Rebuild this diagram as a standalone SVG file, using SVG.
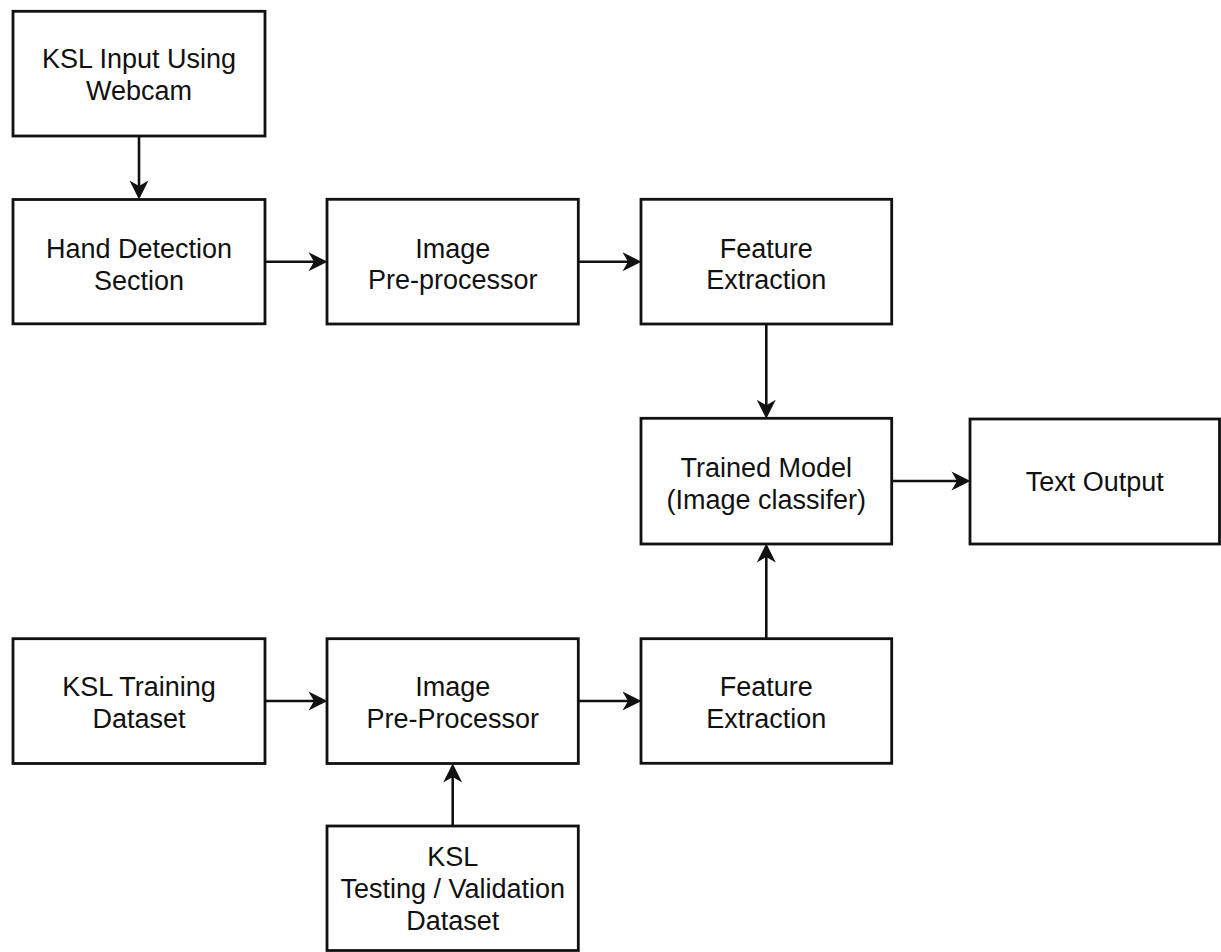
<svg xmlns="http://www.w3.org/2000/svg" width="1221" height="952" viewBox="0 0 1221 952">
<style>
.box{fill:#ffffff;stroke:#111111;stroke-width:2.8}
.lbl{font-family:"Liberation Sans",Arial,Helvetica,sans-serif;font-size:27px;fill:#111111;text-anchor:middle}
.edge{fill:none;stroke:#111111;stroke-width:2.6;marker-end:url(#arr)}
</style>
<defs>
<marker id="arr" viewBox="0 0 20 20" refX="13" refY="10" markerWidth="20" markerHeight="20" markerUnits="userSpaceOnUse" orient="auto">
<path d="M0.5,0.5 L19.5,10 L0.5,19.5 L6,10 Z" fill="#111111" stroke="none"/>
</marker>
</defs>
<rect width="1221" height="952" fill="#ffffff"/>
<g id="connectors">
<path class="edge" d="M139,136 L139,193"/>
<path class="edge" d="M265,261.7 L321,261.7"/>
<path class="edge" d="M578.3,261.7 L635,261.7"/>
<path class="edge" d="M766.3,324 L766.3,412.3"/>
<path class="edge" d="M891.7,481 L964,481"/>
<path class="edge" d="M766.3,638.7 L766.3,550"/>
<path class="edge" d="M265,701 L321,701"/>
<path class="edge" d="M578.3,701 L635,701"/>
<path class="edge" d="M452.7,826 L452.7,770"/>
</g>
<g id="n-ksl-input">
<rect class="box" x="13" y="11.3" width="252" height="124.7"/>
<text class="lbl" x="139" y="67.5">KSL Input Using</text>
<text class="lbl" x="139" y="100">Webcam</text>
</g>
<g id="n-hand-detection">
<rect class="box" x="13" y="199.5" width="252" height="124.3"/>
<text class="lbl" x="139" y="258">Hand Detection</text>
<text class="lbl" x="139" y="289.5">Section</text>
</g>
<g id="n-image-preprocessor">
<rect class="box" x="327" y="199.3" width="251.3" height="124.7"/>
<text class="lbl" x="452.7" y="257.5">Image</text>
<text class="lbl" x="452.7" y="289">Pre-processor</text>
</g>
<g id="n-feature-extraction-top">
<rect class="box" x="641" y="199.3" width="250.7" height="124.7"/>
<text class="lbl" x="766.3" y="257.5">Feature</text>
<text class="lbl" x="766.3" y="289">Extraction</text>
</g>
<g id="n-trained-model">
<rect class="box" x="641" y="418.3" width="250.7" height="125.7"/>
<text class="lbl" x="766.3" y="477">Trained Model</text>
<text class="lbl" x="766.3" y="508.5">(Image classifer)</text>
</g>
<g id="n-text-output">
<rect class="box" x="970" y="419" width="249.5" height="125"/>
<text class="lbl" x="1094.7" y="491">Text Output</text>
</g>
<g id="n-ksl-training">
<rect class="box" x="13" y="638.7" width="252" height="124.8"/>
<text class="lbl" x="139" y="696">KSL Training</text>
<text class="lbl" x="139" y="727.5">Dataset</text>
</g>
<g id="n-image-preprocessor-bottom">
<rect class="box" x="327" y="638.7" width="251.3" height="124.8"/>
<text class="lbl" x="452.7" y="696">Image</text>
<text class="lbl" x="452.7" y="727.5">Pre-Processor</text>
</g>
<g id="n-feature-extraction-bottom">
<rect class="box" x="641" y="638.7" width="250.7" height="124.6"/>
<text class="lbl" x="766.3" y="696">Feature</text>
<text class="lbl" x="766.3" y="727.5">Extraction</text>
</g>
<g id="n-ksl-testing">
<rect class="box" x="327" y="826" width="251.3" height="124.5"/>
<text class="lbl" x="452.7" y="866">KSL</text>
<text class="lbl" x="452.7" y="898">Testing / Validation</text>
<text class="lbl" x="452.7" y="929.5">Dataset</text>
</g>
</svg>
